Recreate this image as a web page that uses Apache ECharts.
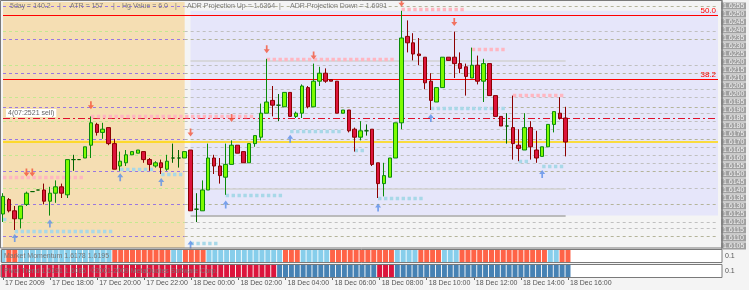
<!DOCTYPE html>
<html><head><meta charset="utf-8">
<script src="https://cdn.jsdelivr.net/npm/echarts@6/dist/echarts.min.js"></script>
<style>html,body{margin:0;padding:0;background:#f4f4f4}#c{width:749px;height:290px}</style>
</head><body><div id="c"></div><script>
// ---------- DATA ----------
// 15-minute bars starting 17 Dec 2009 16:00 (slots continue into the right margin)
const categories = [];
for (let i = 0; i < 123; i++) {
  const m = 16 * 60 + i * 15, d = 17 + Math.floor(m / 1440), mm = m % 1440;
  categories.push(d + ' Dec ' + String(Math.floor(mm / 60)).padStart(2, '0') + ':' + String(mm % 60).padStart(2, '0'));
}
const xTickLabels = ['17 Dec 2009','17 Dec 18:00','17 Dec 20:00','17 Dec 22:00','18 Dec 00:00','18 Dec 02:00','18 Dec 04:00','18 Dec 06:00','18 Dec 08:00','18 Dec 10:00','18 Dec 12:00','18 Dec 14:00','18 Dec 16:00'];
const yTickLabels = [1.6255,1.6250,1.6245,1.6240,1.6235,1.6230,1.6225,1.6220,1.6215,1.6210,1.6205,1.6200,1.6195,1.6190,1.6185,1.6180,1.6175,1.6170,1.6165,1.6160,1.6155,1.6150,1.6145,1.6140,1.6135,1.6130,1.6125,1.6120,1.6115,1.6110,1.6105];
// [open, close, low, high]
const candles = [
[1.6125,1.6136,1.6120,1.6138],[1.6134,1.6127,1.6126,1.6135],[1.6127,1.6122,1.6115,1.6130],[1.6122,1.6130,1.6116,1.6130],
[1.6131,1.6138,1.6130,1.6139],[1.6139,1.6139,1.6139,1.6139],[1.6140,1.6140,1.6140,1.6140],[1.6140,1.6133,1.6131,1.6144],
[1.6133,1.6138,1.6124,1.6142],[1.6138,1.6142,1.6132,1.6146],[1.6142,1.6138,1.6135,1.6144],[1.6137,1.6159,1.6135,1.6159],
[1.6159,1.6159,1.6152,1.6162],[1.6159,1.6159,1.6159,1.6159],[1.6160,1.6167,1.6160,1.6167],[1.6168,1.6182,1.6160,1.6186],
[1.6181,1.6176,1.6174,1.6182],[1.6176,1.6178,1.6172,1.6182],[1.6179,1.6169,1.6168,1.6179],[1.6169,1.6153,1.6153,1.6172],
[1.6155,1.6158,1.6152,1.6164],[1.6157,1.6162,1.6155,1.6165],[1.6162,1.6164,1.6162,1.6164],[1.6163,1.6165,1.6163,1.6165],
[1.6164,1.6159,1.6157,1.6164],[1.6159,1.6156,1.6152,1.6160],[1.6155,1.6157,1.6154,1.6158],[1.6157,1.6154,1.6150,1.6159],
[1.6153,1.6158,1.6152,1.6162],[1.6160,1.6160,1.6157,1.6169],[1.6160,1.6160,1.6154,1.6165],[1.6160,1.6164,1.6160,1.6164],
[1.6165,1.6127,1.6127,1.6165],[1.6128,1.6128,1.6120,1.6138],[1.6127,1.6140,1.6127,1.6146],[1.6140,1.6160,1.6140,1.6169],
[1.6160,1.6155,1.6150,1.6162],[1.6155,1.6149,1.6144,1.6160],[1.6148,1.6156,1.6137,1.6169],[1.6156,1.6168,1.6156,1.6171],
[1.6168,1.6163,1.6163,1.6168],[1.6164,1.6157,1.6157,1.6164],[1.6157,1.6169,1.6157,1.6169],[1.6169,1.6174,1.6167,1.6174],
[1.6173,1.6188,1.6171,1.6194],[1.6188,1.6195,1.6188,1.6222],[1.6196,1.6193,1.6186,1.6205],[1.6193,1.6193,1.6183,1.6200],
[1.6192,1.6201,1.6192,1.6201],[1.6201,1.6186,1.6186,1.6201],[1.6186,1.6188,1.6185,1.6189],[1.6188,1.6205,1.6185,1.6206],
[1.6204,1.6192,1.6191,1.6205],[1.6192,1.6208,1.6192,1.6219],[1.6208,1.6213,1.6205,1.6217],[1.6213,1.6208,1.6207,1.6216],
[1.6209,1.6208,1.6208,1.6209],[1.6208,1.6188,1.6188,1.6208],[1.6188,1.6190,1.6188,1.6190],[1.6190,1.6177,1.6176,1.6190],
[1.6178,1.6173,1.6164,1.6179],[1.6173,1.6177,1.6171,1.6183],[1.6177,1.6177,1.6174,1.6181],[1.6178,1.6156,1.6155,1.6178],
[1.6157,1.6144,1.6135,1.6157],[1.6144,1.6149,1.6136,1.6157],[1.6148,1.6160,1.6148,1.6160],[1.6160,1.6182,1.6160,1.6182],
[1.6182,1.6235,1.6178,1.6252],[1.6236,1.6232,1.6226,1.6246],[1.6232,1.6225,1.6221,1.6238],[1.6225,1.6224,1.6218,1.6235],
[1.6223,1.6207,1.6203,1.6223],[1.6208,1.6196,1.6190,1.6213],[1.6195,1.6204,1.6195,1.6204],[1.6204,1.6223,1.6204,1.6223],
[1.6223,1.6221,1.6221,1.6223],[1.6223,1.6219,1.6210,1.6239],[1.6219,1.6216,1.6213,1.6226],[1.6217,1.6211,1.6199,1.6219],
[1.6210,1.6218,1.6210,1.6229],[1.6218,1.6208,1.6206,1.6224],[1.6208,1.6219,1.6195,1.6222],[1.6219,1.6199,1.6199,1.6219],
[1.6199,1.6186,1.6186,1.6199],[1.6186,1.6180,1.6180,1.6186],[1.6180,1.6180,1.6169,1.6188],[1.6179,1.6169,1.6159,1.6199],
[1.6168,1.6166,1.6158,1.6178],[1.6165,1.6179,1.6165,1.6188],[1.6179,1.6167,1.6159,1.6183],[1.6165,1.6160,1.6157,1.6177],
[1.6161,1.6167,1.6161,1.6167],[1.6167,1.6181,1.6167,1.6181],[1.6181,1.6189,1.6176,1.6189],[1.6188,1.6185,1.6184,1.6198],
[1.6185,1.6170,1.6161,1.6192]
];
// market momentum state per bar (1 = up, 0 = down)
const momentum = [1, 0,0, 1,1,1,1,1,1,1,1,1,1,1,1,1,1,1,1, 0,0,0,0,0,0,0,0,0,0, 1,1, 0,0,0,0,
  1,1,1,1,1,1,1,1,1,1,1,1,1, 0,0,0, 1,1,1,1,1, 0,0,0,0,0,0,0,0,0,0,0, 1,1,1,1, 0,0,0,0, 1,1,1,
  0,0,0,0,0,0,0,0,0,0,0,0,0,0,0, 1,1, 0,0];
// trend state per bar (1 = up, 0 = down)
const trend = [0,0,0,0,0,0,0,0,0,0,0,0,0,0,0,0,0,0,0,0,0,0,0,0,0,0,0,0,0,0,0,0,0,0,0,0,0,0,0,0,0,0,0,0,0,0,0,
  1,1,1,1,1,1,1,1,1,1,1,1,1,1,1,1,1, 0,0,0,
  1,1,1,1,1,1,1,1,1,1,1,1,1,1,1,1,1,1,1,1,1,1,1,1,1,1,1,1,1,1];
// level lines
const levelsA = [1.6255,1.6234,1.6213,1.6192,1.6172,1.6152,1.6131,1.6111];
const levelsB = [1.6239,1.6218,1.6198,1.6183,1.6162,1.6141,1.6120];
const levelsDay = [1.6203,1.6188,1.6178,1.6167,1.6157,1.6116];
const fibLevels = [[1.6249,'50.0'],[1.6209,'38.2']];
const pivotLevel = 1.6170;
const signalLevel = 1.6185;
const signalText = '4(07:2521 sell)';
const dayGuides = [1.6221,1.6141,1.6124];
const dayBox = [1.6252,1.6124];
// dotted rows [startBar, endBar, price]
const pinkRows = [[0,14,1.6148],[15,43,1.6186],[45,67,1.6222],[68,79,1.6253],[80,86,1.6228],[87,96,1.6199]];
const blueRows = [[0,1,1.6122],[2,19,1.6114],[20,26,1.6153],[27,31,1.6150],[32,37,1.6107],[38,48,1.6137],[49,58,1.6177],[60,62,1.6165],[64,72,1.6135],[73,86,1.6191],[88,90,1.6158],[92,96,1.6155]];
// arrows [bar, price]
const downArrows = [[4,1.6151],[5,1.6151],[15,1.6193],[32,1.6176],[39,1.6185],[45,1.6228],[53,1.6224],[68,1.6257],[77,1.6245]];
const upArrows = [[2,1.6110],[8,1.6119],[20,1.6148],[27,1.6145],[38,1.6131],[49,1.6172],[64,1.6129],[73,1.6185],[92,1.6150],[32,1.6106]];
const headerItems = [['5day = 140.2',10],['|',59],['ATR = 157',70],['|',113],['Hg Value = 6.0',122],['|',175],['ADR Projection Up = 1.6364',187],['|',279],['ADR Projection Down = 1.6091',290]];

// ---------- CHART ----------
const chart = echarts.init(document.getElementById('c'), null, {renderer: 'canvas'});
const LAST = categories.length - 1;
const FONT = 'Liberation Sans, Arial, sans-serif';
function seg(x1, x2, y, style, label) {
  const a = {coord: [x1, y], lineStyle: style};
  if (label) a.label = label;
  return [a, {coord: [x2, y]}];
}
const dash = [3, 3];
const levelLines = [];
levelsA.forEach(v => { levelLines.push(seg(0, 31, v, {color:'#9a78e0', type: dash, width:1})); levelLines.push(seg(31, LAST, v, {color:'#b4b49a', type: dash, width:1})); });
levelsB.forEach(v => { levelLines.push(seg(0, 31, v, {color:'#c4e890', type: dash, width:1})); levelLines.push(seg(31, LAST, v, {color:'#c0c0c0', type: dash, width:1})); });
levelsDay.forEach(v => levelLines.push(seg(31, LAST, v, {color:'#c0c0c0', type: dash, width:1})));
dayGuides.forEach((v, k) => levelLines.push(seg(32, 96, v, {color: k === 2 ? '#a8a8a8' : '#d2d2d2', type:'solid', width: 1.5})));
fibLevels.forEach(([v, t]) => levelLines.push(seg(0, LAST, v, {color:'#ff0000', type:'solid', width:1.2, opacity:1},
  {show:true, formatter:t, position:'insideEndTop', color:'#ff0000', fontSize:8, fontFamily:FONT, distance:[2,1]})));
levelLines.push(seg(0, LAST, pivotLevel, {color:'#ffd700', type:'solid', width:1.6}));
levelLines.push(seg(0, LAST, signalLevel, {color:'#e0102a', type:[7,3,2,3], width:1.2},
  {show:true, formatter:signalText, position:'insideStartTop', color:'#666', fontSize:7, fontFamily:FONT,
   backgroundColor:'#fff', padding:[1,2,0,2], distance:[3,1]}));

const dotted = [];
pinkRows.forEach(([a,b,v]) => dotted.push(seg(a, b, v, {color:'#ffb6c1', type:[3.4,2.485], width:3.4})));
blueRows.forEach(([a,b,v]) => dotted.push(seg(a, b, v, {color:'#a8d8e8', type:[3.4,2.485], width:3.4})));

const arrowDown = 'path://M-1,-5 L1,-5 L1,0 L3.5,0 L0,5 L-3.5,0 L-1,0 Z';
const arrowUp = 'path://M-1,5 L1,5 L1,0 L3.5,0 L0,-5 L-3.5,0 L-1,0 Z';

const gridDefs = [
  {left:3, right:28, top:2, height:246},
  {left:3, right:28, top:250, height:12},
  {left:3, right:28, top:265, height:12}
];
const xAxes = [0,1,2].map(k => ({
  type:'category', gridIndex:k, data:categories, boundaryGap:false,
  axisLine:{show:false}, splitLine:{show:false},
  axisTick: k === 2 ? {show:true, length:3, lineStyle:{color:'#666'}, interval:(i) => i % 8 === 0 && i <= 96} : {show:false},
  axisLabel: k === 2 ? {show:true, interval:(i) => i % 8 === 0 && i <= 96, formatter:(v, i) => xTickLabels[i / 8] || '',
    align:'left', margin:3, padding:[0,0,0,2], fontSize:7, color:'#555', fontFamily:FONT} : {show:false}
}));
const yAxes = [
  {type:'value', gridIndex:0, position:'right', min:1.610375, max:1.62575, scale:true,
   axisLine:{show:false}, axisTick:{show:false}, splitLine:{show:false},
   axisLabel:{show:true, customValues: yTickLabels, margin:3, fontSize:7, fontFamily:FONT,
     formatter:(v, i) => '{' + (i % 2 ? 'b' : 'a') + '|' + Number(v).toFixed(4) + '}',
     rich:{a:{backgroundColor:'#a0a0a0', color:'#f2f2f2', width:23, height:7, lineHeight:7, fontSize:7, padding:[0,0,0,2]},
           b:{backgroundColor:'#c2c2c2', color:'#f8f8f8', width:23, height:7, lineHeight:7, fontSize:7, padding:[0,0,0,2]}}}},
  {type:'value', gridIndex:1, min:0, max:1, show:false},
  {type:'value', gridIndex:2, min:0, max:1, show:false}
];

const graphics = [
  {type:'rect', shape:{x:1.5, y:249.5, width:720.5, height:13}, style:{fill:'#fff'}, z:-10},
  {type:'rect', shape:{x:1.5, y:264.5, width:720.5, height:13}, style:{fill:'#fff'}, z:-10},
  {type:'rect', shape:{x:0.5, y:0.5, width:721.5, height:247.5}, style:{fill:null, stroke:'#7a7a7a', lineWidth:1}, z:100},
  {type:'rect', shape:{x:1.5, y:249.5, width:720.5, height:13}, style:{fill:null, stroke:'#7a7a7a', lineWidth:1}, z:100},
  {type:'rect', shape:{x:1.5, y:264.5, width:720.5, height:13}, style:{fill:null, stroke:'#7a7a7a', lineWidth:1}, z:100},
  {type:'text', x:4, y:256, style:{text:'Market Momentum 1.6178 1.6195', fill:'#777', font:'7px ' + FONT, textVerticalAlign:'middle'}, z:100},
  {type:'text', x:4, y:271, style:{text:'Pivot Trend 1.6191 1.6085  ©2001-2009 MetaQuotes Software Corp.', fill:'#777', font:'7px ' + FONT, textVerticalAlign:'middle'}, z:100},
  {type:'text', x:725, y:256, style:{text:'0.1', fill:'#555', font:'7px ' + FONT, textVerticalAlign:'middle'}, z:100},
  {type:'text', x:725, y:271, style:{text:'0.1', fill:'#555', font:'7px ' + FONT, textVerticalAlign:'middle'}, z:100},
  {type:'line', shape:{x1:722, y1:0, x2:722, y2:248}, style:{stroke:'#7a7a7a'}, z:100}
];
headerItems.forEach(([t, x]) => graphics.push({type:'text', x:x, y:6, style:{text:t, fill:'#7a7a7a', font:'7px ' + FONT, textVerticalAlign:'middle'}, z:100}));

const option = {
  animation:false,
  backgroundColor:'#f4f4f4',
  grid: gridDefs,
  xAxis: xAxes,
  yAxis: yAxes,
  graphic: graphics,
  series: [
    {type:'line', xAxisIndex:0, yAxisIndex:0, data:[], z:1, silent:true,
     markArea:{silent:true, data:[
       [{xAxis:0, itemStyle:{color:'#f5deb3'}}, {xAxis:31}],
       [{coord:[32, dayBox[0]], itemStyle:{color:'#e6e6fa'}}, {coord:[LAST, dayBox[1]]}]
     ]}},
    {type:'line', xAxisIndex:0, yAxisIndex:0, data:[], z:2, silent:true,
     markLine:{silent:true, symbol:'none', animation:false, label:{show:false}, data:levelLines}},
    {type:'line', xAxisIndex:0, yAxisIndex:0, data:[], z:3, silent:true,
     markLine:{silent:true, symbol:'none', animation:false, label:{show:false}, data:dotted}},
    {type:'candlestick', xAxisIndex:0, yAxisIndex:0, data:candles, z:5, barWidth:4, clip:false,
     itemStyle:{color:'#7cfc00', color0:'#dc143c', borderColor:'#0a8a0a', borderColor0:'#8b0000', borderColorDoji:'#006400', borderWidth:1}},
    {type:'scatter', xAxisIndex:0, yAxisIndex:0, data:downArrows, symbol:arrowDown, symbolSize:[6,8], z:6, clip:false,
     itemStyle:{color:'#f4553a'}},
    {type:'scatter', xAxisIndex:0, yAxisIndex:0, data:upArrows, symbol:arrowUp, symbolSize:[6,8], z:6, clip:false,
     itemStyle:{color:'#5b8ee8'}},
    {type:'bar', xAxisIndex:1, yAxisIndex:1, data:momentum.map(() => 1), barWidth:5, z:5,
     itemStyle:{color:(p) => momentum[p.dataIndex] ? '#87ceeb' : '#ff6347'}},
    {type:'bar', xAxisIndex:2, yAxisIndex:2, data:trend.map(() => 1), barWidth:5, z:5,
     itemStyle:{color:(p) => trend[p.dataIndex] ? '#4682b4' : '#dc143c'}}
  ]
};
chart.setOption(option);
</script></body></html>
